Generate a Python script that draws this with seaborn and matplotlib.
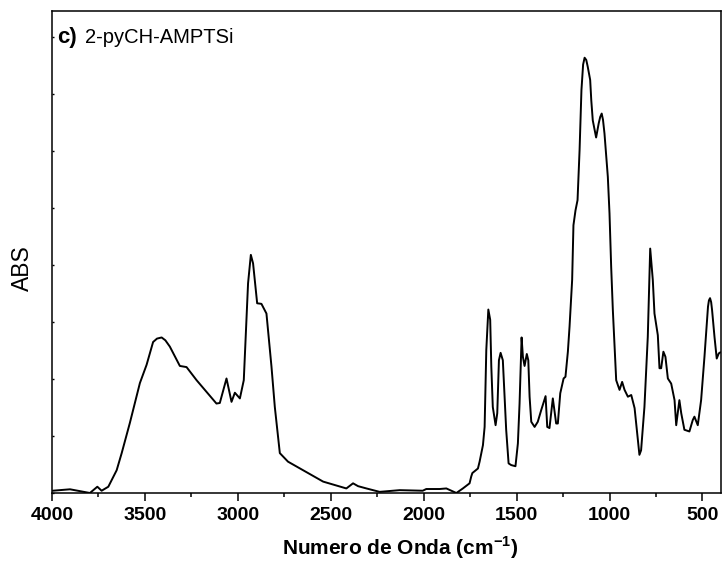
import matplotlib
matplotlib.use("Agg")
import matplotlib.pyplot as plt
from matplotlib.ticker import MultipleLocator, NullFormatter
import seaborn as sns
import pandas as pd

# FTIR spectrum of 2-pyCH-AMPTSi (wavenumber in cm^-1, absorbance in a.u.)
wavenumber = [
    3996, 3903, 3796, 3756, 3733, 3697, 3652, 3625, 3581, 3527, 3491, 3456,
    3435, 3410, 3390, 3366, 3312, 3276, 3222, 3115, 3097, 3061, 3034, 3016,
    2989, 2968, 2945, 2930, 2918, 2896, 2873, 2846, 2819, 2801, 2774, 2730,
    2649, 2541, 2416, 2380, 2353, 2308, 2237, 2129, 2005, 1986, 1914, 1878,
    1824, 1789, 1753, 1744, 1738, 1708, 1699, 1681, 1672, 1663, 1652, 1642,
    1636, 1628, 1613, 1604, 1595, 1586, 1574, 1556, 1543, 1529, 1506, 1493,
    1484, 1473, 1466, 1457, 1445, 1437, 1430, 1421, 1403, 1386, 1367, 1344,
    1335, 1323, 1305, 1287, 1278, 1265, 1247, 1237, 1224, 1215, 1201, 1194,
    1183, 1172, 1161, 1151, 1142, 1134, 1125, 1117, 1104, 1098, 1090, 1072,
    1058, 1050, 1042, 1035, 1027, 1009, 1000, 991, 982, 964, 946, 932,
    919, 901, 883, 865, 847, 839, 830, 812, 794, 781, 767, 758,
    740, 731, 722, 710, 699, 686, 668, 650, 641, 633, 624, 614,
    597, 570, 552, 543, 525, 507, 489, 470, 465, 459, 453, 448,
    435, 423, 412, 403,
]
absorbance = [
    0.004, 0.0065, 0.000, 0.011, 0.004, 0.011, 0.040, 0.070, 0.123, 0.193, 0.225, 0.265,
    0.271, 0.273, 0.268, 0.257, 0.223, 0.221, 0.198, 0.157, 0.158, 0.201, 0.160, 0.176,
    0.166, 0.198, 0.368, 0.418, 0.403, 0.333, 0.332, 0.315, 0.222, 0.151, 0.070, 0.055,
    0.040, 0.020, 0.008, 0.017, 0.012, 0.008, 0.002, 0.005, 0.004, 0.007, 0.007, 0.008,
    0.000, 0.008, 0.017, 0.029, 0.035, 0.043, 0.055, 0.084, 0.116, 0.251, 0.322, 0.304,
    0.222, 0.151, 0.119, 0.140, 0.233, 0.246, 0.233, 0.111, 0.052, 0.049, 0.047, 0.087,
    0.157, 0.273, 0.239, 0.223, 0.244, 0.233, 0.169, 0.125, 0.116, 0.125, 0.146, 0.170,
    0.116, 0.114, 0.166, 0.122, 0.122, 0.175, 0.201, 0.204, 0.248, 0.292, 0.374, 0.470,
    0.496, 0.514, 0.602, 0.707, 0.752, 0.764, 0.760, 0.748, 0.725, 0.689, 0.654, 0.624,
    0.649, 0.660, 0.666, 0.655, 0.631, 0.555, 0.491, 0.397, 0.321, 0.198, 0.181, 0.195,
    0.181, 0.169, 0.172, 0.149, 0.093, 0.067, 0.075, 0.151, 0.274, 0.429, 0.374, 0.315,
    0.277, 0.219, 0.219, 0.248, 0.239, 0.201, 0.192, 0.163, 0.119, 0.140, 0.163, 0.140,
    0.111, 0.108, 0.128, 0.134, 0.119, 0.163, 0.239, 0.327, 0.338, 0.342, 0.335, 0.321,
    0.274, 0.236, 0.245, 0.247,
]

x_ticks = [4000, 3500, 3000, 2500, 2000, 1500, 1000, 500]
x_labels = ["4000", "3500", "3000", "2500", "2000", "1500", "1000", "500"]

sns.set_theme(style="ticks")
plt.rcParams["font.family"] = ["Liberation Sans", "DejaVu Sans"]
plt.rcParams["text.color"] = "black"
plt.rcParams["axes.labelcolor"] = "black"
plt.rcParams["mathtext.fontset"] = "custom"
plt.rcParams["mathtext.rm"] = "Liberation Sans"
plt.rcParams["mathtext.bf"] = "Liberation Sans:bold"

df = pd.DataFrame({"wn": wavenumber, "abs": absorbance})

fig = plt.figure(figsize=(7.25, 5.65), dpi=100)
ax = fig.add_axes([52 / 725, 72 / 565, 669 / 725, 482 / 565])

sns.lineplot(data=df, x="wn", y="abs", sort=False, color="black",
             linewidth=1.4, ax=ax, legend=False)
for ln in ax.get_lines():
    ln.set_solid_joinstyle("round")
    ln.set_solid_capstyle("round")

ax.set_xlim(4000, 400)
ax.set_ylim(0, 0.846)

ax.set_xticks(x_ticks)
ax.set_xticklabels(x_labels, fontsize=14, fontweight="bold")
ax.xaxis.set_minor_locator(MultipleLocator(250))
ax.tick_params(axis="x", which="major", direction="out", length=6, width=1.1,
               pad=4, colors="black")
ax.tick_params(axis="x", which="minor", direction="out", length=3, width=1.1,
               colors="black")

ax.yaxis.set_major_locator(MultipleLocator(0.1))
ax.yaxis.set_major_formatter(NullFormatter())
ax.tick_params(axis="y", which="major", direction="in", length=1.5, width=1.0,
               colors="black")

for side in ["left", "right", "top", "bottom"]:
    ax.spines[side].set_visible(True)
    ax.spines[side].set_linewidth(1.1)
    ax.spines[side].set_color("black")

ax.set_xlabel(r"Numero de Onda (cm$^{\mathbf{-1}}$)", fontsize=15,
              fontweight="bold", color="black")
ax.xaxis.set_label_coords(0.52, -0.085)
ax.set_ylabel("ABS", fontsize=16.5, color="black")
ax.yaxis.set_label_coords(-0.027, 0.467)

ax.text(0.008, 0.945, "c)", transform=ax.transAxes, fontsize=16,
        fontweight="bold", va="center", ha="left", color="black")
ax.text(0.049, 0.945, "2-pyCH-AMPTSi", transform=ax.transAxes, fontsize=14.5,
        family=["Liberation Sans Narrow", "Liberation Sans"],
        va="center", ha="left", color="black")

fig.savefig("out.png", dpi=100)
